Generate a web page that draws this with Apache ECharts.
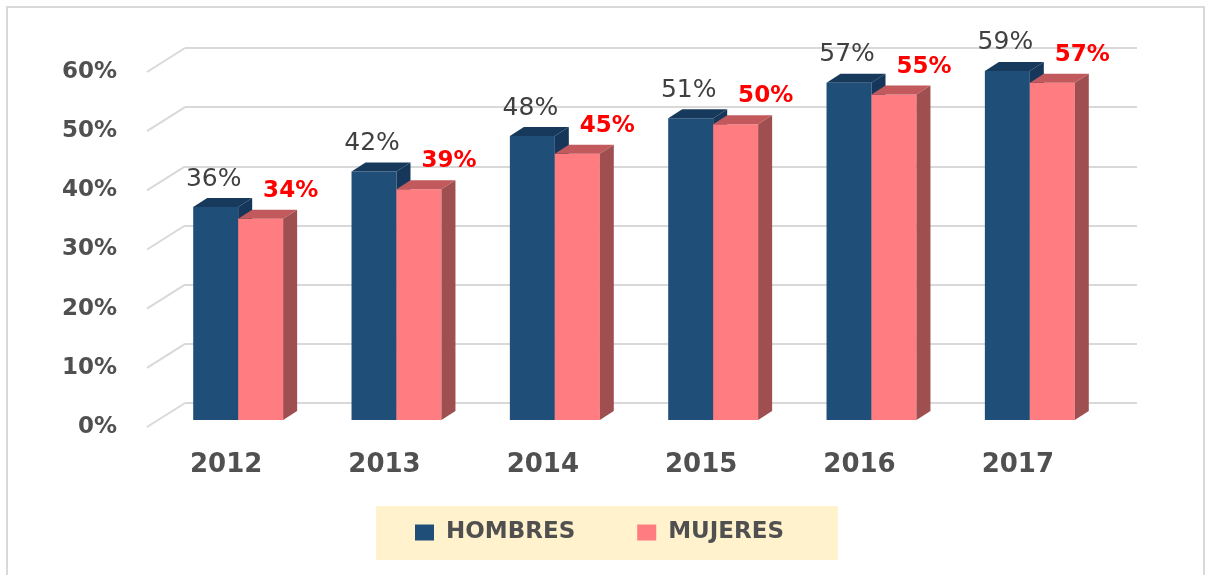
<!DOCTYPE html>
<html>
<head>
<meta charset="utf-8">
<script src="https://cdn.jsdelivr.net/npm/echarts@6/dist/echarts.min.js"></script>
<style>
  html, body { margin: 0; padding: 0; background: #fff; }
  #chart { width: 1211px; height: 575px; }
</style>
</head>
<body>
<div id="chart"></div>
<script>
// data
const years = ['2012', '2013', '2014', '2015', '2016', '2017']
const hombres = [36, 42, 48, 51, 57, 59]
const mujeres = [34, 39, 45, 50, 55, 57]
const yTicks = [0, 10, 20, 30, 40, 50, 60]

const font = 'DejaVu Sans'
const depthX = 14
const depthY = -9

// 3d look bar: front face, top, right side + value label
function barItem (side, front, topCol, sideCol, lblColor, lblFont, lblDx) {
  return function (params, api) {
    const cat = api.value(0)
    const v = api.value(1)
    const base = api.coord([cat, 0])
    const tip = api.coord([cat, v])
    const bw = api.size([1, 0])[0] * 0.284
    const x0 = side < 0 ? base[0] - bw : base[0]
    const yt = tip[1]
    const yb = base[1]
    return {
      type: 'group',
      children: [
        { type: 'rect', shape: { x: x0, y: yt, width: bw, height: yb - yt }, style: { fill: front } },
        {
          type: 'polygon',
          shape: { points: [[x0, yt], [x0 + depthX, yt + depthY], [x0 + bw + depthX, yt + depthY], [x0 + bw, yt]] },
          style: { fill: topCol }
        },
        {
          type: 'polygon',
          shape: { points: [[x0 + bw, yt], [x0 + bw + depthX, yt + depthY], [x0 + bw + depthX, yb + depthY], [x0 + bw, yb]] },
          style: { fill: sideCol }
        },
        {
          type: 'text',
          x: x0 + bw / 2 + lblDx,
          y: yt - 28,
          style: {
            text: v + '%',
            fill: lblColor,
            font: lblFont,
            align: 'center',
            verticalAlign: 'middle'
          }
        }
      ]
    }
  }
}

const chart = echarts.init(document.getElementById('chart'))

const option = {
  backgroundColor: '#fff',
  animation: false,
  graphic: [
    {
      type: 'rect',
      shape: { x: 7, y: 7, width: 1197, height: 590 },
      style: { fill: 'none', stroke: '#d9d9d9', lineWidth: 2 },
      silent: true
    }
  ],
  legend: {
    left: 376,
    top: 506,
    backgroundColor: '#fff2cc',
    padding: [15, 54, 16, 39],
    itemWidth: 19,
    itemHeight: 16,
    itemGap: 62,
    icon: 'rect',
    selectedMode: false,
    textStyle: {
      fontFamily: font,
      fontWeight: 'bold',
      fontSize: 23,
      color: '#505050',
      padding: [0, 0, 0, 7]
    },
    data: [
      { name: 'HOMBRES', itemStyle: { color: '#1f4e79' } },
      { name: 'MUJERES', itemStyle: { color: '#ff7c80' } }
    ]
  },
  grid: [
    // back wall
    { left: 185, top: 48, width: 952, height: 355 },
    // bars
    { left: 159, top: 65, width: 950, height: 355 },
    // front axis labels
    { left: 159, top: 72, width: 950, height: 355 }
  ],
  xAxis: [
    { gridIndex: 0, type: 'value', min: 0, max: 1, show: false },
    {
      gridIndex: 1,
      type: 'category',
      data: years,
      axisLine: { show: false },
      axisTick: { show: false },
      axisLabel: {
        margin: 32,
        fontFamily: font,
        fontWeight: 'bold',
        fontSize: 26,
        color: '#505050',
        padding: [0, 24, 0, 0]
      }
    },
    { gridIndex: 2, type: 'value', min: 0, max: 1, show: false }
  ],
  yAxis: [
    {
      gridIndex: 0,
      type: 'value',
      min: 0,
      max: 60,
      interval: 10,
      axisLine: { show: false },
      axisTick: { show: false },
      axisLabel: { show: false },
      splitLine: { lineStyle: { color: '#d9d9d9', width: 2 } }
    },
    {
      gridIndex: 1,
      type: 'value',
      min: 0,
      max: 60,
      interval: 10,
      show: false
    },
    {
      gridIndex: 2,
      type: 'value',
      min: 0,
      max: 60,
      interval: 10,
      axisLine: { show: false },
      axisTick: { show: false },
      splitLine: { show: false },
      axisLabel: {
        margin: 42,
        formatter: '{value}%',
        fontFamily: font,
        fontWeight: 'bold',
        fontSize: 23,
        color: '#505050'
      }
    }
  ],
  series: [
    {
      // floor / side diagonals of the wall
      type: 'custom',
      xAxisIndex: 0,
      yAxisIndex: 0,
      silent: true,
      data: yTicks.map(t => [0, t]),
      renderItem: function (params, api) {
        const p = api.coord([0, api.value(1)])
        return {
          type: 'line',
          shape: { x1: p[0] - 38, y1: p[1] + 24, x2: p[0], y2: p[1] },
          style: { stroke: '#d9d9d9', lineWidth: 2 }
        }
      }
    },
    {
      name: 'HOMBRES',
      type: 'custom',
      xAxisIndex: 1,
      yAxisIndex: 1,
      itemStyle: { color: '#1f4e79' },
      data: hombres.map((v, i) => [i, v]),
      renderItem: barItem(-1, '#1f4e79', '#173a5c', '#163759', '#404040', '25px "' + font + '"', -2)
    },
    {
      name: 'MUJERES',
      type: 'custom',
      xAxisIndex: 1,
      yAxisIndex: 1,
      itemStyle: { color: '#ff7c80' },
      data: mujeres.map((v, i) => [i, v]),
      renderItem: barItem(1, '#ff7c80', '#c2595c', '#a04f51', '#ff0000', 'bold 23px "' + font + '"', 30)
    }
  ]
}

chart.setOption(option)
</script>
</body>
</html>
